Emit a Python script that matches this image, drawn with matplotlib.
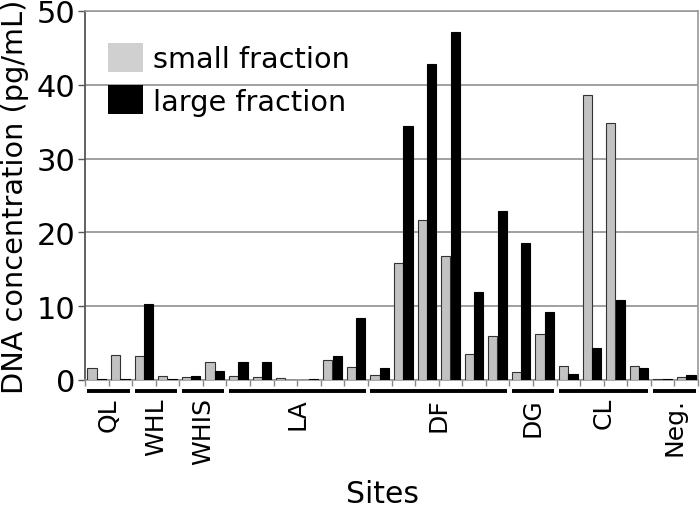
import matplotlib.pyplot as plt
import matplotlib.transforms as mtransforms
from matplotlib.patches import Patch
import numpy as np

# one value per sample, 26 samples ordered by site
small_frac = [1.6, 3.4, 3.2, 0.6, 0.35, 2.5, 0.55, 0.35, 0.22, 0.0, 2.7, 1.75, 0.7,
              15.9, 21.7, 16.8, 3.5, 6.0, 1.05, 6.2, 1.95, 38.6, 34.8, 1.85, 0.1, 0.35]
large_frac = [0.08, 0.08, 10.3, 0.08, 0.6, 1.2, 2.4, 2.5, 0.0, 0.1, 3.3, 8.4, 1.6,
              34.4, 42.8, 47.1, 11.9, 22.9, 18.5, 9.15, 0.75, 4.4, 10.9, 1.6, 0.1, 0.65]
sites = ['QL', 'WHL', 'WHIS', 'LA', 'DF', 'DG', 'CL', 'Neg.']
site_counts = [2, 2, 2, 6, 6, 2, 4, 2]
yticks = [0, 10, 20, 30, 40, 50]

fig = plt.figure(figsize=(7, 5.1), dpi=100)
ax = fig.add_axes([85/700, 129/510, 613/700, 369/510])

x = np.arange(len(small_frac))
w = 0.39
ax.bar(x - 0.2, small_frac, w, color='#c2c2c2', edgecolor='#333333', linewidth=0.8, zorder=3)
ax.bar(x + 0.2, large_frac, w, color='black', edgecolor='black', linewidth=0.8, zorder=3)

ax.set_xlim(-0.5, len(x) - 0.5)
ax.set_ylim(0, 50)
ax.set_yticks(yticks)
ax.set_yticklabels([str(t) for t in yticks], fontsize=22)
ax.set_xticks(np.arange(-0.5, len(x), 1))
ax.set_xticklabels([])
ax.tick_params(axis='y', length=5, width=1, color='#555555', pad=2)
ax.tick_params(axis='x', length=4, width=1, color='#888888')
ax.yaxis.grid(True, color='#a0a0a0', linewidth=1.4, zorder=0)
ax.set_axisbelow(True)
for s in ['top', 'right', 'bottom']:
    ax.spines[s].set_color('#999999')
    ax.spines[s].set_linewidth(1.2)
ax.spines['left'].set_color('#555555')
ax.spines['left'].set_linewidth(1.3)

# site brackets under the axis
trans = mtransforms.blended_transform_factory(ax.transData, ax.transAxes)
start = -0.5
for name, n in zip(sites, site_counts):
    end = start + n
    ax.plot([start + 0.1, end - 0.1], [-0.029, -0.029], color='black', lw=2.8,
            transform=trans, clip_on=False, solid_capstyle='butt')
    ax.text((start + end) / 2, -0.046, name, rotation=90, ha='center', va='top',
            fontsize=18, transform=trans)
    start = end

fig.text(382/700, 1/510, 'Sites', ha='center', va='bottom', fontsize=21.5)
fig.text(0.001, (510 - 197)/510, 'DNA concentration (pg/mL)', rotation=90,
         ha='left', va='center', fontsize=20.7)

handles = [Patch(facecolor='#d0d0d0', edgecolor='none'),
           Patch(facecolor='black', edgecolor='none')]
ax.legend(handles, ['small fraction', 'large fraction'], loc='upper left',
          bbox_to_anchor=(23/613, (381 - 44)/369), frameon=False, fontsize=20.7,
          handlelength=1.22, handleheight=1.18, handletextpad=0.35,
          labelspacing=0.42, borderpad=0, borderaxespad=0)

fig.savefig('out.png', dpi=100)
